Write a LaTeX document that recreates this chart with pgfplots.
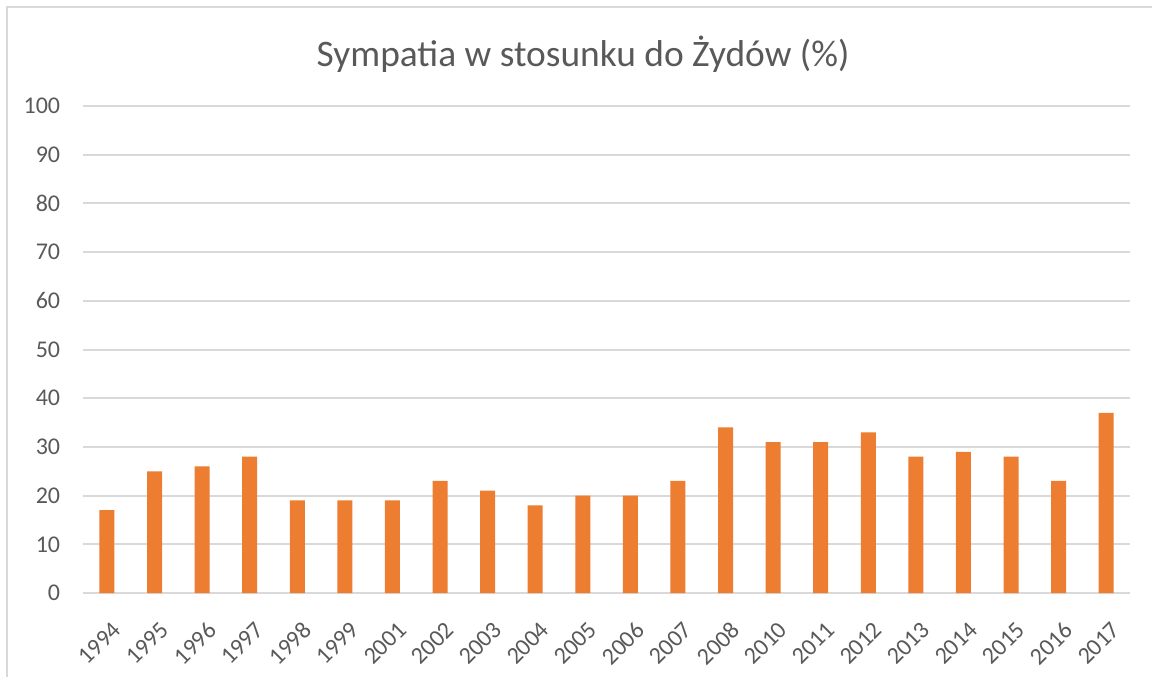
\documentclass[border=0pt]{standalone}
\usepackage{pgfplots}
\pgfplotsset{compat=1.18}
\usepackage{fontspec}
\setmainfont{Carlito}
\definecolor{barc}{HTML}{ED7D31}
\definecolor{gridc}{HTML}{D9D9D9}
\definecolor{txtc}{HTML}{595959}
\begin{document}
\begin{tikzpicture}
\path[use as bounding box] (0,0) rectangle (576pt,338.5pt);
\draw[gridc, line width=1pt] (3.5pt,0) -- (3.5pt,335pt) -- (576pt,335pt);
\begin{axis}[
  at={(41.6pt,42pt)}, anchor=south west,
  scale only axis, width=523.4pt, height=243.5pt,
  ybar, bar width=7.5pt,
  xmin=-0.5, xmax=21.5, ymin=0, ymax=100,
  xtick=data,
  xticklabels={1994,1995,1996,1997,1998,1999,2001,2002,2003,2004,2005,2006,2007,2008,2010,2011,2012,2013,2014,2015,2016,2017},
  ytick={0,10,...,100},
  ymajorgrids, grid style={gridc, line width=1pt},
  axis x line*=bottom, axis y line*=left,
  x axis line style={gridc, line width=1pt, -},
  y axis line style={draw=none},
  major tick length=0pt,
  /pgf/number format/assume math mode=true,
  tick label style={font=\fontsize{12}{14}\selectfont, text=txtc},
  xticklabel style={rotate=45, anchor=north east, inner sep=1pt, xshift=-7pt, yshift=-10pt},
  yticklabel style={anchor=east, xshift=-8pt},
  title={Sympatia w stosunku do Żydów (\%)},
  title style={font=\fontsize{18.7}{22}\selectfont, text=txtc, at={(0.5,1)}, xshift=-11.75pt, yshift=20pt, anchor=center},
]
\addplot[fill=barc, draw=none] coordinates {
(0,17) (1,25) (2,26) (3,28) (4,19) (5,19) (6,19) (7,23) (8,21) (9,18) (10,20)
(11,20) (12,23) (13,34) (14,31) (15,31) (16,33) (17,28) (18,29) (19,28) (20,23) (21,37)};
\end{axis}
\end{tikzpicture}
\end{document}
